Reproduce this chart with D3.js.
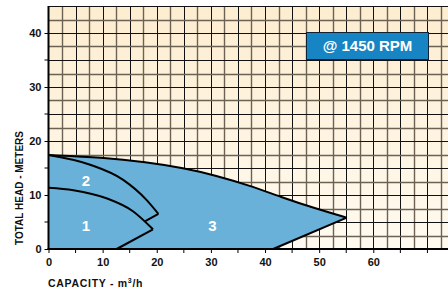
<!DOCTYPE html>
<meta charset="utf-8">
<style>
body { margin: 0; background: #fff; }
text { font-family: "Liberation Sans", Arial, sans-serif; font-weight: bold; }
</style>
<svg width="448" height="293"></svg>
<script src="https://d3js.org/d3.v7.min.js"></script>
<script>

// pump envelope curves, [capacity m3/h, head m]
var envelope = [[0, 17.4], [10, 16.95], [18, 16.1], [25, 15.0], [31, 13.6], [37, 11.8], [43, 9.6], [49, 7.6], [55.1, 5.8]];
var envelopeEnd = [[55.1, 5.8], [41.5, 0]];
var curve2 = [[0, 17.4], [7.7, 15.6], [13.8, 12.8], [18.1, 9.1], [20.3, 6.5]];
var curve2End = [[20.3, 6.5], [17.8, 5.1]];
var curve1 = [[0, 11.35], [4.6, 10.9], [10.7, 9.4], [15.6, 7.0], [19.3, 3.65]];
var curve1End = [[19.3, 3.65], [12.6, 0]];
var regionLabels = [{ name: "1", x: 6.9, y: 4.3 }, { name: "2", x: 6.9, y: 12.6 }, { name: "3", x: 30.3, y: 4.3 }];

var xTicks = [0, 10, 20, 30, 40, 50, 60];
var xMinor = [5, 15, 25, 35, 45, 55, 65, 70];
var yTicks = [0, 10, 20, 30, 40];
var yMinor = [5, 15, 25, 35];

var svg = d3.select("svg");
var x = d3.scaleLinear().domain([0, 73.8]).range([48.5, 448]);
var y = d3.scaleLinear().domain([0, 45]).range([249, 6]);

var defs = svg.append("defs");
var grad = defs.append("linearGradient").attr("id", "bg").attr("x1", 0).attr("y1", 0).attr("x2", 0).attr("y2", 1);
grad.append("stop").attr("offset", "0%").attr("stop-color", "#fdedd0");
grad.append("stop").attr("offset", "100%").attr("stop-color", "#fffaf0");

svg.append("rect")
    .attr("x", x(0)).attr("y", y(45))
    .attr("width", 448 - x(0)).attr("height", y(0) - y(45))
    .attr("fill", "url(#bg)");

// grid
var gx = d3.range(2.5, 74, 2.5), gy = d3.range(2.5, 45.1, 2.5);
svg.append("g").selectAll("line").data(gx).join("line")
    .attr("x1", d => Math.round(x(d)) + 0.5).attr("x2", d => Math.round(x(d)) + 0.5)
    .attr("y1", y(45)).attr("y2", y(0))
    .attr("stroke", (d, i) => i % 2 ? "#111" : "#6b6254").attr("stroke-width", (d, i) => i % 2 ? 1 : 1.4);
svg.append("g").selectAll("line").data(gy).join("line")
    .attr("y1", d => Math.round(y(d)) + 0.5).attr("y2", d => Math.round(y(d)) + 0.5)
    .attr("x1", x(0)).attr("x2", 448)
    .attr("stroke", (d, i) => i % 2 ? "#111" : "#6b6254").attr("stroke-width", (d, i) => i % 2 ? 1 : 1.4);

var smooth = d3.line().x(d => x(d[0])).y(d => y(d[1])).curve(d3.curveBasis);
var line = d3.line().x(d => x(d[0])).y(d => y(d[1])).curve(d3.curveMonotoneX);
var straight = d3.line().x(d => x(d[0])).y(d => y(d[1]));

// filled operating area
var areaPath = smooth(envelope) + "L" + x(41.5) + "," + y(0) + "L" + x(0) + "," + y(0) + "Z";
svg.append("path").attr("d", areaPath).attr("fill", "#6ab1d9");

var curves = svg.append("g").attr("fill", "none").attr("stroke", "#000").attr("stroke-width", 2).attr("stroke-linejoin", "miter");
curves.append("path").attr("d", smooth(envelope));
curves.append("path").attr("d", straight(envelopeEnd));
curves.append("path").attr("d", line(curve2));
curves.append("path").attr("d", straight(curve2End));
curves.append("path").attr("d", line(curve1));
curves.append("path").attr("d", straight(curve1End));

svg.append("g").selectAll("text").data(regionLabels).join("text")
    .attr("x", d => x(d.x)).attr("y", d => y(d.y))
    .attr("text-anchor", "middle").attr("dy", "0.36em")
    .attr("fill", "#fff").attr("font-size", 15)
    .text(d => d.name);

// axes
var xAxis = d3.axisBottom(x).tickValues(xTicks).tickSize(4).tickFormat(d3.format("d"));
var gxA = svg.append("g").attr("transform", "translate(0," + y(0) + ")").call(xAxis);
gxA.append("g").selectAll("line").data(xMinor).join("line")
    .attr("x1", d => x(d)).attr("x2", d => x(d)).attr("y1", 0).attr("y2", 4).attr("stroke", "#000");
var yAxis = d3.axisLeft(y).tickValues(yTicks).tickSize(4);
var gyA = svg.append("g").attr("transform", "translate(" + x(0) + ",0)").call(yAxis);
gyA.append("g").selectAll("line").data(yMinor).join("line")
    .attr("y1", d => y(d)).attr("y2", d => y(d)).attr("x1", 0).attr("x2", -4).attr("stroke", "#000");

[gxA, gyA].forEach(function(g) {
  g.select(".domain").remove();
  g.selectAll("text").attr("font-size", 11).attr("fill", "#111")
    .attr("font-family", "Liberation Sans, Arial, sans-serif").attr("font-weight", "bold");
  g.selectAll(".tick line").attr("stroke", "#000");
});
gxA.selectAll(".tick text").attr("dy", "0.9em");

svg.append("line").attr("x1", x(0)).attr("x2", x(0)).attr("y1", y(45)).attr("y2", y(0) + 1)
    .attr("stroke", "#000").attr("stroke-width", 2);
svg.append("line").attr("x1", x(0) - 1).attr("x2", 448).attr("y1", y(0)).attr("y2", y(0))
    .attr("stroke", "#000").attr("stroke-width", 2);

svg.append("text").attr("transform", "translate(23,188) rotate(-90)")
    .attr("text-anchor", "middle").attr("font-size", 10).attr("fill", "#111")
    .text("TOTAL HEAD - METERS");

var xl = svg.append("text").attr("x", 48).attr("y", 287).attr("font-size", 10.5)
    .attr("letter-spacing", 0.7).attr("fill", "#111");
xl.append("tspan").text("CAPACITY - m");
xl.append("tspan").attr("font-size", 7).attr("dy", -4).text("3");
xl.append("tspan").attr("dy", 4).text("/h");

// rpm badge
svg.append("rect").attr("x", 306.5).attr("y", 32.5).attr("width", 122).attr("height", 27)
    .attr("fill", "#1784c4").attr("stroke", "#123").attr("stroke-width", 1);
svg.append("text").attr("x", 367.5).attr("y", 46).attr("dy", "0.36em")
    .attr("text-anchor", "middle").attr("font-size", 15).attr("fill", "#fff")
    .text("@ 1450 RPM");

</script>
